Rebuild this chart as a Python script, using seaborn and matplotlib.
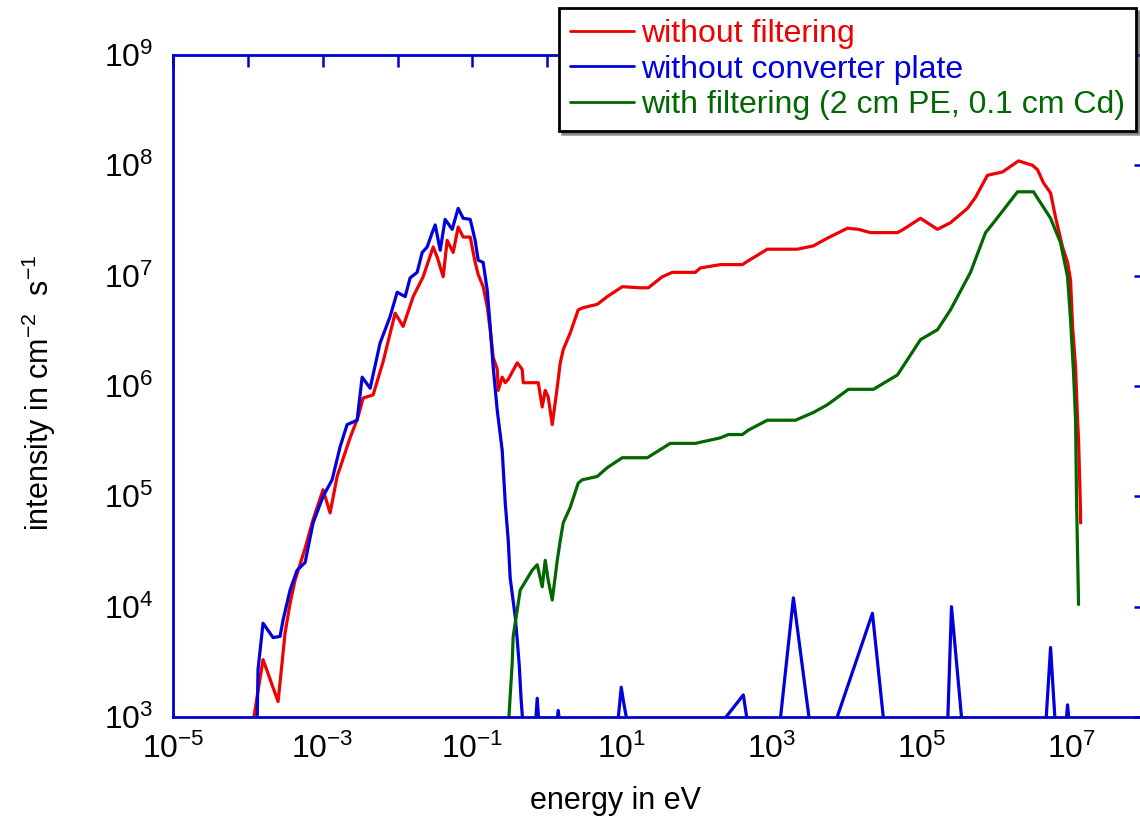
import numpy as np
import pandas as pd
import matplotlib
matplotlib.use("Agg")
import matplotlib.pyplot as plt
from matplotlib.ticker import FixedLocator, FuncFormatter
import seaborn as sns

# ---- data (log10 of energy in eV, log10 of intensity) ----
red_logE = [-3.930, -3.877, -3.797, -3.596, -3.543, -3.503, -3.436, -3.369, -3.235, -3.128,
            -2.995, -2.901, -2.807, -2.634, -2.527, -2.460, -2.326, -2.193, -2.032, -1.925,
            -1.791, -1.658, -1.524, -1.471, -1.390, -1.337, -1.257, -1.190, -1.123, -1.029,
            -0.963, -0.922, -0.856, -0.802, -0.762, -0.722, -0.668, -0.655, -0.602, -0.561,
            -0.521, -0.401, -0.334, -0.321, -0.120, -0.067, -0.027, 0.013, 0.067, 0.134,
            0.174, 0.214, 0.307, 0.414, 0.481, 0.668, 0.802, 1.003, 1.243, 1.350,
            1.537, 1.671, 1.979, 2.045, 2.313, 2.607, 2.674, 2.941, 3.342, 3.556,
            3.743, 4.011, 4.158, 4.318, 4.679, 4.759, 4.987, 5.214, 5.388, 5.615,
            5.722, 5.882, 6.083, 6.297, 6.484, 6.551, 6.631, 6.725, 6.791, 6.885,
            6.952, 6.992, 7.019, 7.059, 7.086, 7.099, 7.126, 7.127]
red_logI = [2.95, 3.18, 3.52, 3.14, 3.49, 3.76, 4.03, 4.24, 4.53, 4.79,
            5.06, 4.85, 5.18, 5.53, 5.72, 5.89, 5.92, 6.22, 6.66, 6.54,
            6.81, 6.99, 7.26, 7.17, 6.99, 7.32, 7.21, 7.44, 7.35, 7.35,
            7.12, 7.01, 6.90, 6.72, 6.51, 6.26, 6.15, 5.96, 6.08, 6.03,
            6.06, 6.21, 6.15, 6.03, 6.03, 5.81, 5.96, 5.90, 5.65, 5.99,
            6.21, 6.33, 6.48, 6.69, 6.71, 6.74, 6.81, 6.90, 6.89, 6.89,
            6.99, 7.03, 7.03, 7.07, 7.10, 7.10, 7.13, 7.24, 7.24, 7.27,
            7.34, 7.43, 7.42, 7.39, 7.39, 7.42, 7.52, 7.42, 7.48, 7.61,
            7.71, 7.91, 7.94, 8.04, 8.00, 7.96, 7.84, 7.75, 7.53, 7.26,
            7.12, 6.96, 6.54, 6.17, 5.69, 5.51, 4.85, 4.76]

blue_logE = [-3.877, -3.864, -3.797, -3.663, -3.570, -3.529, -3.436, -3.342, -3.235, -3.128,
             -2.995, -2.874, -2.767, -2.674, -2.540, -2.473, -2.366, -2.233, -2.099, -2.005,
             -1.898, -1.832, -1.738, -1.671, -1.604, -1.537, -1.497, -1.430, -1.364, -1.270,
             -1.190, -1.123, -1.029, -0.963, -0.922, -0.856, -0.802, -0.762, -0.722, -0.668,
             -0.602, -0.561, -0.521, -0.495, -0.428, -0.401, -0.374, -0.348, -0.321,
             -0.160, -0.134, -0.107, 0.120, 0.147, 0.174,
             0.936, 0.989, 1.016, 1.083,
             2.273, 2.620, 2.687,
             3.102, 3.289, 3.516,
             3.824, 4.345, 4.505,
             5.348, 5.401, 5.548,
             6.658, 6.725, 6.791,
             6.925, 6.952, 6.979, 7.300]
blue_logI = [2.90, 3.43, 3.85, 3.72, 3.73, 3.88, 4.15, 4.33, 4.40, 4.76,
             5.00, 5.15, 5.45, 5.65, 5.69, 6.08, 5.98, 6.39, 6.63, 6.85,
             6.81, 6.98, 7.03, 7.21, 7.26, 7.39, 7.46, 7.23, 7.51, 7.42,
             7.61, 7.52, 7.51, 7.32, 7.14, 7.12, 6.87, 6.54, 6.17, 5.78,
             5.42, 4.94, 4.60, 4.26, 3.91, 3.70, 3.47, 3.15, 2.90,
             2.90, 3.17, 2.90, 2.90, 3.06, 2.90,
             2.90, 3.27, 3.15, 2.90,
             2.90, 3.20, 2.90,
             2.90, 4.08, 2.90,
             2.90, 3.94, 2.90,
             2.90, 4.00, 2.90,
             2.90, 3.63, 2.90,
             2.90, 3.11, 2.90, 2.90]

green_logE = [-0.521, -0.468, -0.455, -0.401, -0.361, -0.201, -0.134, -0.067, -0.027, 0.013,
              0.067, 0.134, 0.174, 0.214, 0.307, 0.414, 0.468, 0.668, 0.802, 1.003,
              1.243, 1.337, 1.644, 1.979, 2.045, 2.313, 2.420, 2.607, 2.687, 2.941,
              3.316, 3.556, 3.743, 4.024, 4.358, 4.679, 4.987, 5.214, 5.388, 5.655,
              5.856, 5.963, 6.283, 6.497, 6.725, 6.858, 6.952, 6.992, 7.032, 7.059,
              7.072, 7.099]
green_logI = [2.90, 3.49, 3.73, 3.97, 4.15, 4.33, 4.38, 4.18, 4.42, 4.24,
              4.06, 4.42, 4.60, 4.76, 4.90, 5.12, 5.15, 5.18, 5.26, 5.35,
              5.35, 5.35, 5.48, 5.48, 5.49, 5.53, 5.56, 5.56, 5.60, 5.69,
              5.69, 5.76, 5.83, 5.97, 5.97, 6.10, 6.42, 6.51, 6.69, 7.03,
              7.39, 7.48, 7.76, 7.76, 7.52, 7.30, 6.99, 6.60, 6.12, 5.69,
              4.97, 4.02]

labels = ["without filtering", "without converter plate",
          "with filtering (2 cm PE, 0.1 cm Cd)"]
colors = ["#ee0000", "#0000dd", "#006600"]

x_tick_exps = list(range(-5, 9))
y_tick_exps = list(range(3, 10))

# ---- build frames ----
frames = []
for lab, le, li in zip(labels, [red_logE, blue_logE, green_logE],
                       [red_logI, blue_logI, green_logI]):
    frames.append(pd.DataFrame({"energy": np.power(10.0, le),
                                "intensity": np.power(10.0, li),
                                "series": lab}))

sns.set_style("white")
plt.rcParams["font.family"] = ["Liberation Sans", "DejaVu Sans"]
plt.rcParams["mathtext.fontset"] = "custom"
plt.rcParams["mathtext.rm"] = "Liberation Sans"
plt.rcParams["mathtext.it"] = "Liberation Sans"
plt.rcParams["mathtext.bf"] = "Liberation Sans:bold"
plt.rcParams["text.color"] = "black"
plt.rcParams["axes.labelcolor"] = "black"

fig = plt.figure(figsize=(11.4, 8.22), dpi=100)
ax = fig.add_axes([173 / 1140, 105 / 822, 973 / 1140, 662 / 822])

for df, col in zip(frames, colors):
    sns.lineplot(data=df, x="energy", y="intensity", ax=ax, color=col,
                 estimator=None, sort=False, linewidth=2.3,
                 label=df["series"].iloc[0])

ax.set_xscale("log")
ax.set_yscale("log")
ax.set_xlim(1e-5, 1e8)
ax.set_ylim(1e3, 1e9)

ax.xaxis.set_major_locator(FixedLocator([10.0 ** e for e in x_tick_exps]))
ax.yaxis.set_major_locator(FixedLocator([10.0 ** e for e in y_tick_exps]))
ax.xaxis.set_minor_locator(FixedLocator([]))
ax.yaxis.set_minor_locator(FixedLocator([]))


def xfmt(v, p):
    e = int(round(np.log10(v)))
    return r"$\mathregular{10^{%d}}$" % e if e % 2 != 0 else ""


def yfmt(v, p):
    e = int(round(np.log10(v)))
    return r"$\mathregular{10^{%d}}$" % e


ax.xaxis.set_major_formatter(FuncFormatter(xfmt))
ax.yaxis.set_major_formatter(FuncFormatter(yfmt))

axis_blue = "#0000cc"
for s in ax.spines.values():
    s.set_color(axis_blue)
    s.set_linewidth(2.0)
ax.tick_params(axis="both", which="major", direction="in", length=8.5, width=1.8,
               color=axis_blue, labelcolor="black", labelsize=23,
               top=True, right=True)
ax.tick_params(axis="x", pad=12)
ax.tick_params(axis="y", pad=14)

ax.set_xlabel("energy in eV", fontsize=22, color="black")
ax.xaxis.set_label_coords((615 - 173) / 973, (717 - 786) / 662)
ax.set_ylabel(r"intensity in cm$^{\mathregular{-2}}$  s$^{\mathregular{-1}}$", fontsize=22,
              color="black")
ax.yaxis.set_label_coords((58 - 173) / 973, 0.49)

leg = ax.legend(loc="upper right", bbox_to_anchor=(1136 / 1140, 1 - 8 / 822),
                bbox_transform=fig.transFigure, borderaxespad=0, fontsize=23,
                frameon=True, fancybox=False, shadow=True, handlelength=2.0,
                handletextpad=0.22, labelspacing=0.17, borderpad=0.35)
leg.get_frame().set_edgecolor("black")
leg.get_frame().set_linewidth(2.0)
for txt, col in zip(leg.get_texts(), colors):
    txt.set_color(col)
for h in leg.get_lines():
    h.set_linewidth(2.0)

fig.savefig("out.png", dpi=100)
